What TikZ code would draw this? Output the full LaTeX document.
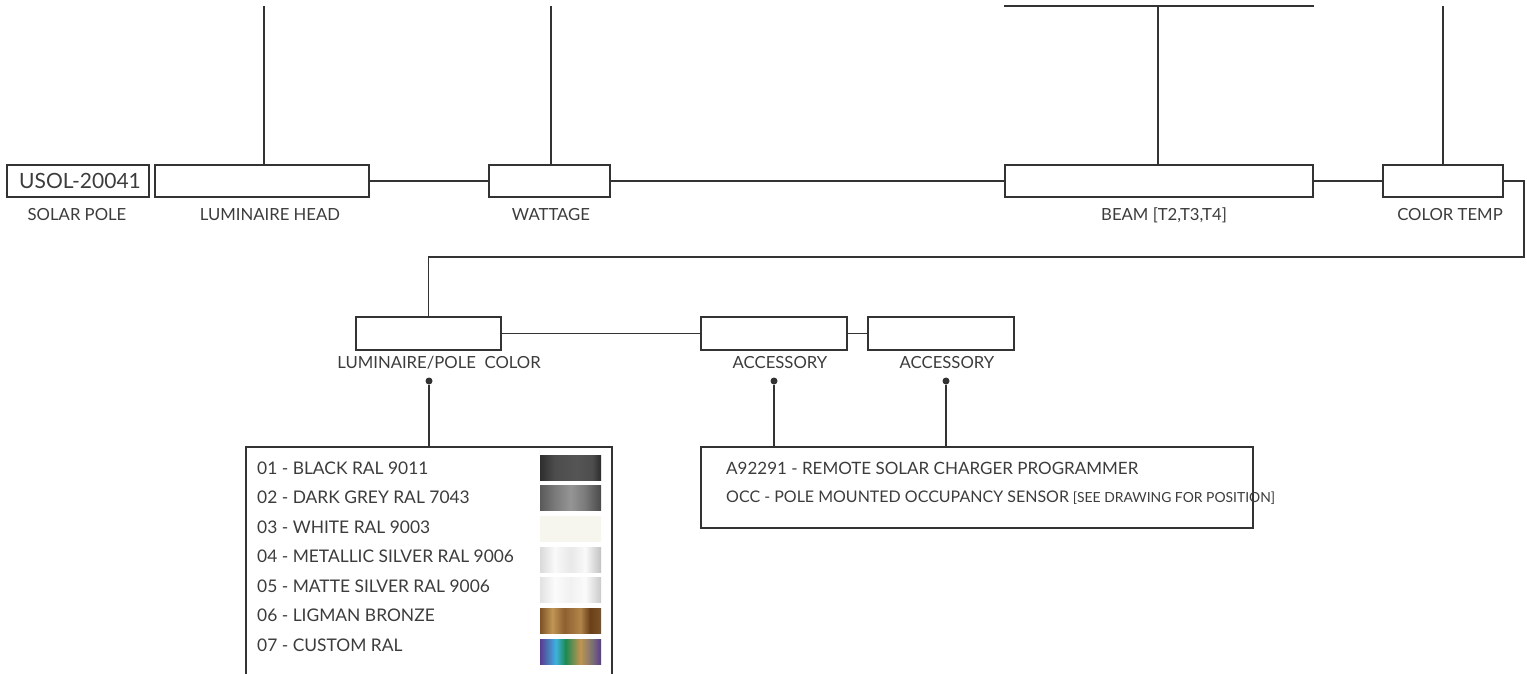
\documentclass[tikz,border=0pt]{standalone}
\usepackage{fontspec}
\setmainfont{Lato}
\usetikzlibrary{positioning}

\definecolor{inkgray}{HTML}{3C3C3C}
\definecolor{linegray}{HTML}{333333}

% swatch colours
\definecolor{bkA}{HTML}{2E2E2E}\definecolor{bkB}{HTML}{4D4D4D}\definecolor{bkC}{HTML}{555555}\definecolor{bkD}{HTML}{2B2B2B}
\definecolor{dgA}{HTML}{5A5A5A}\definecolor{dgB}{HTML}{7A7A7A}\definecolor{dgC}{HTML}{959595}\definecolor{dgD}{HTML}{4A4A4A}
\definecolor{whA}{HTML}{F6F6EF}
\definecolor{msA}{HTML}{DADADA}\definecolor{msB}{HTML}{F9F9F9}\definecolor{msC}{HTML}{E8E8E8}\definecolor{msD}{HTML}{C2C2C2}
\definecolor{mtA}{HTML}{E2E2E2}\definecolor{mtB}{HTML}{FBFBFB}\definecolor{mtC}{HTML}{F1F1F1}\definecolor{mtD}{HTML}{CACACA}
\definecolor{brA}{HTML}{7D5225}\definecolor{brB}{HTML}{C09555}\definecolor{brC}{HTML}{8E6030}\definecolor{brD}{HTML}{6A4018}
\definecolor{cuA}{HTML}{5B3A90}\definecolor{cuB}{HTML}{40B0E0}\definecolor{cuC}{HTML}{1A8A55}\definecolor{cuD}{HTML}{C09550}\definecolor{cuE}{HTML}{7A7070}

\pgfdeclarehorizontalshading{swblack}{100bp}{color(0bp)=(bkA); color(25bp)=(bkA); color(37bp)=(bkB); color(55bp)=(bkC); color(68bp)=(bkB); color(75bp)=(bkD); color(100bp)=(bkD)}
\pgfdeclarehorizontalshading{swdgrey}{100bp}{color(0bp)=(dgA); color(25bp)=(dgA); color(37bp)=(dgB); color(50bp)=(dgC); color(62bp)=(dgB); color(75bp)=(dgD); color(100bp)=(dgD)}
\pgfdeclarehorizontalshading{swwhite}{100bp}{color(0bp)=(whA); color(100bp)=(whA)}
\pgfdeclarehorizontalshading{swmetal}{100bp}{color(0bp)=(msA); color(25bp)=(msA); color(37bp)=(msB); color(50bp)=(msC); color(62bp)=(msB); color(75bp)=(msD); color(100bp)=(msD)}
\pgfdeclarehorizontalshading{swmatte}{100bp}{color(0bp)=(mtA); color(25bp)=(mtA); color(37bp)=(mtB); color(50bp)=(mtC); color(62bp)=(mtB); color(75bp)=(mtD); color(100bp)=(mtD)}
\pgfdeclarehorizontalshading{swbronze}{100bp}{color(0bp)=(brA); color(25bp)=(brA); color(35bp)=(brB); color(45bp)=(brC); color(58bp)=(brB!70!brC); color(66bp)=(brD); color(75bp)=(brA); color(100bp)=(brA)}
\pgfdeclarehorizontalshading{swcustom}{100bp}{color(0bp)=(cuA); color(25bp)=(cuA); color(38bp)=(cuB); color(46bp)=(cuC); color(58bp)=(cuD); color(68bp)=(cuE); color(75bp)=(cuA); color(100bp)=(cuA)}

\tikzset{
    optbox/.style = {draw = linegray, line width = 1.3pt, rectangle, inner sep = 0pt, minimum height = 32},
    optlabel/.style = {text = inkgray, inner sep = 0pt, font = \fontsize{16.7}{19}\selectfont},
    listtext/.style = {text = inkgray, inner sep = 0pt, anchor = west, font = \fontsize{17.4}{20}\selectfont},
    wire/.style = {draw = linegray, line width = 1.3pt},
    pin/.style = {fill = linegray, circle, inner sep = 0pt, minimum size = 7}
}

\begin{document}
\begin{tikzpicture}[x = 1pt, y = -1pt]
    \useasboundingbox (0,0) rectangle (1527,673);
    % top row of option boxes
    \node[optbox, minimum width = 142, text = inkgray, font = \fontsize{21}{24}\selectfont] (pole) at (78,181) {\hspace{4pt}USOL-20041};
    \node[optbox, minimum width = 214] (head) at (262,181) {};
    \node[optbox, minimum width = 121] (watt) at (549.5,181) {};
    \node[optbox, minimum width = 308] (beam) at (1159,181) {};
    \node[optbox, minimum width = 120] (ctemp) at (1443,181) {};
    \begin{scope}[every node/.append style = {optlabel}]
        \node (pole lbl) at (77,215) {SOLAR POLE};
        \node (head lbl) at (270,215) {LUMINAIRE HEAD};
        \node (watt lbl) at (551,215) {WATTAGE};
        \node (beam lbl) at (1164,215) {BEAM [T2,T3,T4]};
        \node (ctemp lbl) at (1450,215) {COLOR TEMP};
    \end{scope}
    \draw[wire] (head) -- (watt);
    \draw[wire] (watt) -- (beam);
    \draw[wire] (beam) -- (ctemp);
    % leader lines going up
    \coordinate (head top) at (264,6);
    \coordinate (watt top) at (551,6);
    \coordinate (beam top) at (1158,6);
    \coordinate (ctemp top) at (1443,6);
    \draw[wire] (head top) -- (head top |- head.north);
    \draw[wire] (watt top) -- (watt top |- watt.north);
    \draw[wire] (beam top) -- (beam top |- beam.north);
    \draw[wire] (beam.west |- beam top) -- (beam.east |- beam top);
    \draw[wire] (ctemp top) -- (ctemp top |- ctemp.north);
    % second row
    \node[optbox, minimum width = 145, minimum height = 33] (lpcolor) at (428.5,333.5) {};
    \node[optbox, minimum width = 146, minimum height = 33] (acc one) at (774,333.5) {};
    \node[optbox, minimum width = 146, minimum height = 33] (acc two) at (941,333.5) {};
    \begin{scope}[every node/.append style = {optlabel}]
        \node (lpcolor lbl) at (439,363) {LUMINAIRE/POLE\ \ COLOR};
        \node (acc one lbl) at (780,363) {ACCESSORY};
        \node (acc two lbl) at (947,363) {ACCESSORY};
    \end{scope}
    \coordinate (bend) at (1524,257);
    \draw[wire] (ctemp.east) -| (bend) -| (lpcolor.north);
    \draw[wire] (lpcolor) -- (acc one);
    \draw[wire] (acc one) -- (acc two);
    % option lists
    \node[optbox, minimum width = 366, minimum height = 253] (colorlist) at (429,573.5) {};
    \node[optbox, minimum width = 552, minimum height = 81] (acclist) at (977,487.5) {};
    \node[pin] (lpcolor pin) at (429,381) {};
    \node[pin] (acc one pin) at (774,381) {};
    \node[pin] (acc two pin) at (946,381) {};
    \draw[wire] (lpcolor pin) -- (lpcolor pin |- colorlist.north);
    \draw[wire] (acc one pin) -- (acc one pin |- acclist.north);
    \draw[wire] (acc two pin) -- (acc two pin |- acclist.north);
    \foreach \i/\sw/\txt in {0/swblack/01 - BLACK RAL 9011,
                             1/swdgrey/02 - DARK GREY RAL 7043,
                             2/swwhite/03 - WHITE RAL 9003,
                             3/swmetal/04 - METALLIC SILVER RAL 9006,
                             4/swmatte/05 - MATTE SILVER RAL 9006,
                             5/swbronze/06 - LIGMAN BRONZE,
                             6/swcustom/07 - CUSTOM RAL} {
        \node[listtext] (color \i) at (257,468+29.5*\i) {\txt};
        \shade[shading = \sw] (540,455+30.7*\i) rectangle (601,480+30.7*\i);
    }
    \node[listtext, font = \fontsize{17}{20}\selectfont] (acc item one) at (726,468) {A92291 - REMOTE SOLAR CHARGER PROGRAMMER};
    \node[listtext, font = \fontsize{16}{19}\selectfont] (acc item two) at (726,498) {OCC - POLE MOUNTED OCCUPANCY SENSOR\ {\fontsize{13.9}{15}\selectfont [SEE DRAWING FOR POSITION]}};
\end{tikzpicture}
\end{document}
